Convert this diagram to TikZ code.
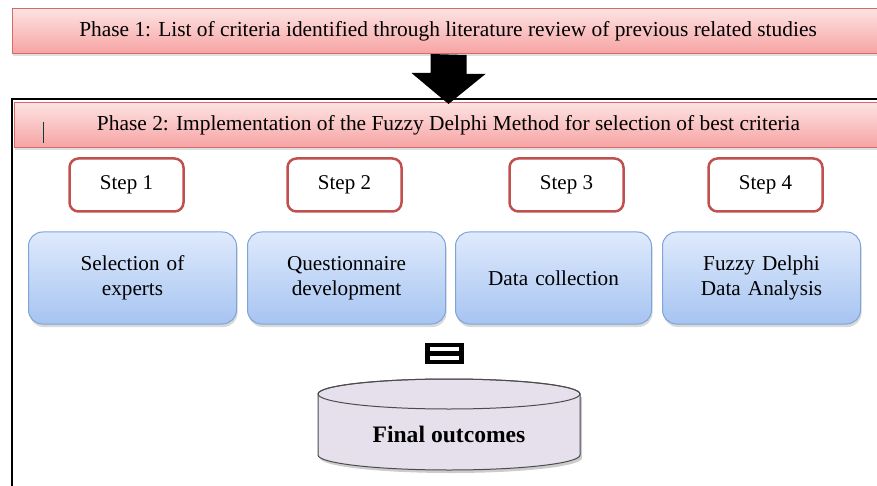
\documentclass[tikz,border=0pt]{standalone}
\usepackage{fontspec}
\setmainfont{Liberation Serif}
\usetikzlibrary{shadows}

\definecolor{bannerline}{HTML}{D36B6B}
\definecolor{bannertop}{HTML}{FDE3E3}
\definecolor{bannerbot}{HTML}{F7A3A3}
\definecolor{stepline}{HTML}{C0504D}
\definecolor{tasktop}{HTML}{DFEAFC}
\definecolor{taskbot}{HTML}{A6C4F1}
\definecolor{taskline}{HTML}{7EA4D9}
\definecolor{drumfill}{HTML}{E5E0EC}

\begin{document}
\begin{tikzpicture}[x=1pt, y=-1pt, node distance=218pt,
    banner/.style={rectangle, draw=bannerline, line width=1pt, top color=bannertop, bottom color=bannerbot,
        minimum height=45pt, text centered, font=\fontsize{21.4}{24}\selectfont,
        drop shadow={opacity=0.25, shadow xshift=1pt, shadow yshift=-3pt}},
    stepbox/.style={rectangle, rounded corners=9pt, draw=stepline, line width=2.5pt, fill=white,
        minimum width=114pt, minimum height=53pt, font=\fontsize{21}{24}\selectfont},
    task/.style={rectangle, rounded corners=14pt, draw=taskline, line width=1pt, top color=tasktop,
        bottom color=taskbot, minimum height=92pt, text width=180pt, align=center,
        font=\fontsize{21.2}{25}\selectfont,
        drop shadow={opacity=0.3, shadow xshift=1pt, shadow yshift=-3pt}}]

    \clip (0,0) rectangle (877,486);

    % Phase 1
    \node[banner, minimum width=872pt] (phaseone) at (448,31) {Phase 1: List of criteria identified through literature review of previous related studies};

    % Phase 2 frame
    \draw[line width=2.5pt] (12,99) rectangle (900,520);
    \node[banner, minimum width=869pt] (phasetwo) at (448.5,125) {Phase 2: Implementation of the Fuzzy Delphi Method for selection of best criteria};
    \draw[teal!50!black, line width=1pt] (43,122) -- (43,143);

    \fill (phaseone.south) ++(-17.5,0) -- ++(0,19) -- ++(-19,0) -- ([yshift=-2pt]phasetwo.north)
        -- ++(37,-30) -- ++(-19,0) -- ++(0,-19) -- cycle;

    % Steps
    \node[stepbox] (stepone) at (126.5,185) {Step 1};
    \node[stepbox, right of=stepone] (steptwo) {Step 2};
    \node[stepbox, right of=steptwo, node distance=222pt] (stepthree) {Step 3};
    \node[stepbox, right of=stepthree, node distance=199pt] (stepfour) {Step 4};

    \node[task, minimum width=208pt] (taskone) at (132.5,278) {Selection of\\experts};
    \node[task, minimum width=198pt, right of=taskone, node distance=214pt] (tasktwo) {Questionnaire\\development};
    \node[task, minimum width=196pt, right of=tasktwo, node distance=207pt] (taskthree) {Data collection};
    \node[task, minimum width=198pt, right of=taskthree, node distance=208pt] (taskfour) {Fuzzy Delphi\\Data Analysis};

    % Final outcomes
    \node[fill=black, minimum width=39pt, minimum height=21pt, inner sep=0pt] (equal) at (444.5,353.5) {};
    \fill[white] (equal.center) ++(-14.5,-6.5) rectangle ++(29,4);
    \fill[white] (equal.center) ++(-14.5,2.5) rectangle ++(29,4);

    \fill[black, opacity=0.2] (320,397) -- (320,458) arc[start angle=180, end angle=360, x radius=131pt, y radius=15pt] -- (582,397) -- cycle;
    \filldraw[fill=drumfill, draw=black!70, line width=1pt] (318,394) -- (318,455)
        arc[start angle=180, end angle=360, x radius=131pt, y radius=15pt] -- (580,394)
        arc[start angle=0, end angle=180, x radius=131pt, y radius=15pt] -- cycle;
    \draw[black!70, line width=1pt] (449,394) ellipse[x radius=131pt, y radius=15pt];
    \node[font=\fontsize{23.6}{28}\selectfont\bfseries] (outcomes) at (449,434) {Final outcomes};
\end{tikzpicture}
\end{document}
